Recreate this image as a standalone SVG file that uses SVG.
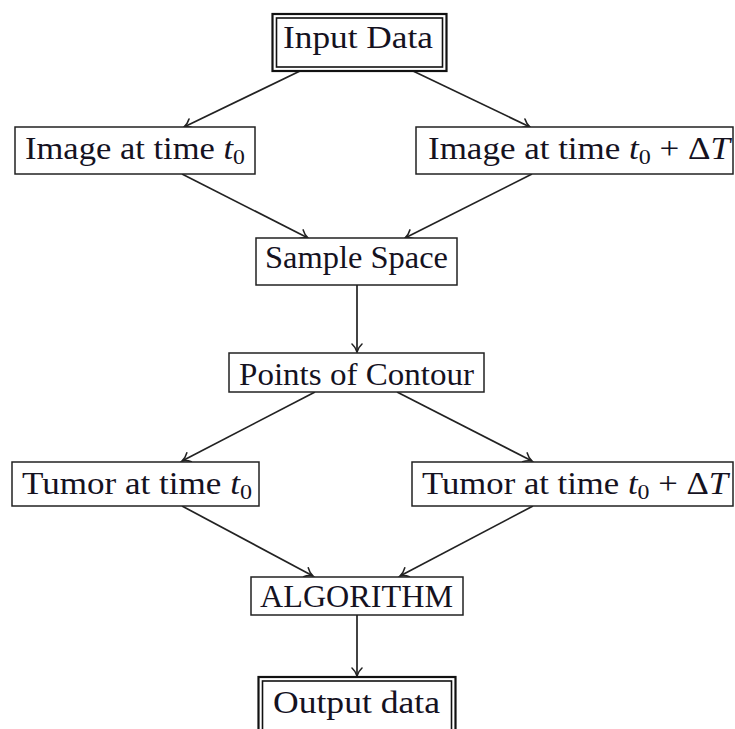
<svg xmlns="http://www.w3.org/2000/svg" width="735" height="729" viewBox="0 0 735 729">
<style>
.box{fill:#fff;stroke:#222;stroke-width:1.5}
.outer{fill:#fff;stroke:#111;stroke-width:2.2}
.inner{fill:none;stroke:#111;stroke-width:1.6}
.t{font-family:"Liberation Serif","DejaVu Serif",serif;font-size:32px;fill:#15121f}
.i{font-style:italic}
.sub{font-size:22px}
.edge{stroke:#222;stroke-width:1.7;fill:none;marker-end:url(#arr)}
</style>
<defs>
<marker id="arr" markerUnits="userSpaceOnUse" markerWidth="16" markerHeight="16" refX="0" refY="0" viewBox="-10 -8 12 16" orient="auto">
<path d="M-8,-5 C-5.5,-2.2 -2,-0.6 0,0 C-2,0.6 -5.5,2.2 -8,5" fill="none" stroke="#222" stroke-width="1.6" stroke-linecap="round"/>
</marker>
</defs>
<rect width="735" height="729" fill="#fff"/>
<g id="connectors">
<line class="edge" x1="300" y1="71" x2="184" y2="127"/>
<line class="edge" x1="413" y1="71" x2="530" y2="127"/>
<line class="edge" x1="182" y1="174" x2="308" y2="238"/>
<line class="edge" x1="532" y1="174" x2="405" y2="238"/>
<line class="edge" x1="357" y1="285" x2="357" y2="352"/>
<line class="edge" x1="315" y1="392" x2="182" y2="461"/>
<line class="edge" x1="397" y1="392" x2="532" y2="461"/>
<line class="edge" x1="182" y1="506" x2="313" y2="576"/>
<line class="edge" x1="533" y1="506" x2="400" y2="576"/>
<line class="edge" x1="357" y1="615" x2="357" y2="676"/>
</g>
<g id="input">
<rect class="outer" x="272.5" y="14" width="174" height="57"/>
<rect class="inner" x="276.5" y="18" width="166" height="49"/>
<text class="t" x="283" y="48" textLength="150" lengthAdjust="spacingAndGlyphs">Input Data</text>
</g>
<g id="img0">
<rect class="box" x="15" y="127" width="240" height="47"/>
<text class="t" x="25" y="159" textLength="220" lengthAdjust="spacingAndGlyphs">Image at time <tspan class="i">t</tspan><tspan class="sub" dy="5">0</tspan></text>
</g>
<g id="img1">
<rect class="box" x="416" y="127" width="317" height="47"/>
<text class="t" x="428" y="159" textLength="302" lengthAdjust="spacingAndGlyphs">Image at time <tspan class="i">t</tspan><tspan class="sub" dy="5">0</tspan><tspan dy="-5"> + Δ</tspan><tspan class="i">T</tspan></text>
</g>
<g id="sample">
<rect class="box" x="256" y="238" width="201" height="47"/>
<text class="t" x="265" y="268" textLength="183" lengthAdjust="spacingAndGlyphs">Sample Space</text>
</g>
<g id="points">
<rect class="box" x="229" y="353" width="255" height="39"/>
<text class="t" x="239" y="385" textLength="235" lengthAdjust="spacingAndGlyphs">Points of Contour</text>
</g>
<g id="tumor0">
<rect class="box" x="12" y="462" width="247" height="44"/>
<text class="t" x="22" y="494" textLength="230" lengthAdjust="spacingAndGlyphs">Tumor at time <tspan class="i">t</tspan><tspan class="sub" dy="5">0</tspan></text>
</g>
<g id="tumor1">
<rect class="box" x="412" y="462" width="321" height="44"/>
<text class="t" x="422" y="494" textLength="306" lengthAdjust="spacingAndGlyphs">Tumor at time <tspan class="i">t</tspan><tspan class="sub" dy="5">0</tspan><tspan dy="-5"> + Δ</tspan><tspan class="i">T</tspan></text>
</g>
<g id="algorithm">
<rect class="box" x="251" y="577" width="212" height="38"/>
<text class="t" x="260" y="607" textLength="193" lengthAdjust="spacingAndGlyphs">ALGORITHM</text>
</g>
<g id="output">
<rect class="outer" x="258.5" y="677" width="197" height="57"/>
<rect class="inner" x="262.5" y="681" width="189" height="49"/>
<text class="t" x="273" y="713" textLength="167" lengthAdjust="spacingAndGlyphs">Output data</text>
</g>
</svg>
